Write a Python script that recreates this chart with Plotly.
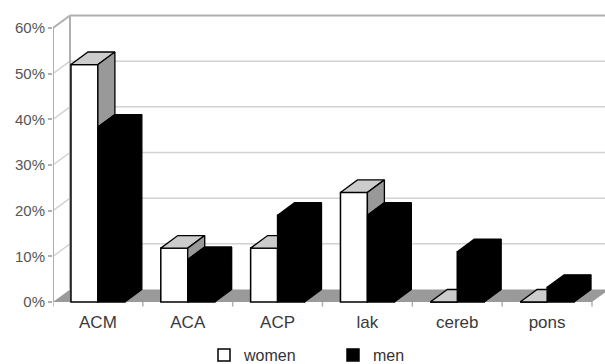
import plotly.graph_objects as go

# ---------------- data ----------------
categories = ["ACM", "ACA", "ACP", "lak", "cereb", "pons"]
women = [52.0, 11.8, 11.8, 24.0, 0.0, 0.0]
men = [38.3, 9.3, 19.0, 19.0, 11.0, 3.2]
y_tick_values = [0, 10, 20, 30, 40, 50, 60]
y_tick_labels = ["0%", "10%", "20%", "30%", "40%", "50%", "60%"]
series_names = ["women", "men"]

# ---------------- pseudo-3D geometry (data units) ----------------
BAR_W = 0.30      # width of each bar's front face (category units)
DX = 0.189        # depth offset along x (category units)
DY = 2.74         # depth offset along y (percentage points)
N = len(categories)
centers = [i + 0.5 for i in range(N)]
Y_MAX = y_tick_values[-1]

FONT = "Liberation Sans, Arial, sans-serif"
GRID = "#d2d2d2"
WALL = "#b0b0b0"
FLOOR = "#9a9a9a"
TOP_W = "#cccccc"
SIDE_W = "#999999"


def poly_join(polys):
    xs, ys = [], []
    for p in polys:
        for (x, y) in p + [p[0]]:
            xs.append(x)
            ys.append(y)
        xs.append(None)
        ys.append(None)
    return xs, ys


women_tops, women_sides, men_tops, men_sides = [], [], [], []
for c, w, m in zip(centers, women, men):
    # women (left bar): top face, clipped where the men bar's front hides it
    A = (c - BAR_W, w)
    B = (c, w)
    C = (c + DX, w + DY)
    D = (c - BAR_W + DX, w + DY)
    if m <= w:
        women_tops.append([A, B, C, D])
    elif m >= w + DY:
        women_tops.append([A, B, (c, w + DY), D])
    else:
        xm = c + (m - w) / DY * DX
        women_tops.append([A, B, (c, m), (xm, m), C, D])
    # women side face: only the part above the men bar
    if w > m:
        women_sides.append([(c, m), (c, w), (c + DX, w + DY), (c + DX, m + DY)])
    # men (right bar)
    men_tops.append([(c, m), (c + BAR_W, m), (c + BAR_W + DX, m + DY), (c + DX, m + DY)])
    men_sides.append([(c + BAR_W, 0), (c + BAR_W, m),
                      (c + BAR_W + DX, m + DY), (c + BAR_W + DX, DY)])

fig = go.Figure()

# front faces as real bars
fig.add_trace(go.Bar(
    x=centers, y=women, width=BAR_W, offset=-BAR_W, name=series_names[0],
    marker=dict(color="white", line=dict(color="black", width=1.5)),
    legend="legend", hoverinfo="skip"))
fig.add_trace(go.Bar(
    x=centers, y=men, width=BAR_W, offset=0, name=series_names[1],
    marker=dict(color="black", line=dict(color="black", width=1.5)),
    legend="legend2", hoverinfo="skip"))

for polys, col in [(women_tops, TOP_W), (women_sides, SIDE_W),
                   (men_tops, "black"), (men_sides, "black")]:
    if not polys:
        continue
    xs, ys = poly_join(polys)
    fig.add_trace(go.Scatter(
        x=xs, y=ys, mode="lines", fill="toself", fillcolor=col,
        line=dict(color="black", width=1.3), showlegend=False,
        hoverinfo="skip"))

# ---------------- walls, floor, gridlines (shapes below traces) ----------------
shapes = []
shapes.append(dict(type="path", layer="below", xref="x", yref="y",
                   path=f"M 0,0 L {N},0 L {N + DX},{DY} L {DX},{DY} Z",
                   fillcolor=FLOOR, line=dict(width=0)))
for v in y_tick_values[1:-1]:
    shapes.append(dict(type="line", layer="below", xref="x", yref="y",
                       x0=DX, x1=N + DX + 1, y0=v + DY, y1=v + DY,
                       line=dict(color=GRID, width=1.5)))
    shapes.append(dict(type="line", layer="below", xref="x", yref="y",
                       x0=0, x1=DX, y0=v, y1=v + DY,
                       line=dict(color=GRID, width=1.5)))
# top edges of the walls
shapes.append(dict(type="line", layer="below", xref="x", yref="y",
                   x0=DX, x1=N + DX + 1, y0=Y_MAX + DY, y1=Y_MAX + DY,
                   line=dict(color=WALL, width=2)))
shapes.append(dict(type="line", layer="below", xref="x", yref="y",
                   x0=0, x1=DX, y0=Y_MAX, y1=Y_MAX + DY,
                   line=dict(color=WALL, width=2)))
# back-left vertical edge and front value axis
shapes.append(dict(type="line", layer="below", xref="x", yref="y",
                   x0=DX, x1=DX, y0=DY, y1=Y_MAX + DY,
                   line=dict(color=WALL, width=2)))
shapes.append(dict(type="line", layer="below", xref="x", yref="y",
                   x0=0, x1=0, y0=0, y1=Y_MAX,
                   line=dict(color=WALL, width=2)))
# category separator ticks on the floor's front edge
for i in range(N + 1):
    shapes.append(dict(type="line", layer="below", xref="x", yref="y",
                       x0=i, x1=i, y0=0, y1=-1.0,
                       line=dict(color=WALL, width=1.5)))

# pixel-calibrated ranges: 0 -> x=53px, 6 -> x=592px ; 0% -> y=302px, 60% -> y=28px
PX_PER_CAT = (592 - 53) / 6
PX_PER_PCT = (302 - 28) / 60
M_L, M_R, M_T, M_B = 53, 0, 8, 54
W, H = 605, 364
PLOT_W = W - M_L - M_R
PLOT_H = H - M_T - M_B
x_max = PLOT_W / PX_PER_CAT
y_min = -((H - M_B) - 302) / PX_PER_PCT
y_max = (302 - M_T) / PX_PER_PCT
LEGEND_Y = -((355 - (H - M_B)) / PLOT_H)

fig.update_layout(
    width=W, height=H,
    margin=dict(l=M_L, r=M_R, t=M_T, b=M_B, autoexpand=False),
    paper_bgcolor="white", plot_bgcolor="white",
    barmode="overlay",
    font=dict(family=FONT, size=16, color="#333333"),
    shapes=shapes,
    xaxis=dict(range=[0, x_max], tickmode="array", tickvals=centers,
               ticktext=categories, ticks="", showgrid=False, zeroline=False,
               showline=False, fixedrange=True, automargin=False,
               tickfont=dict(size=17, color="#3a3a3a")),
    yaxis=dict(range=[y_min, y_max], tickmode="array", tickvals=y_tick_values,
               ticktext=y_tick_labels, ticks="outside", ticklen=4,
               tickwidth=1.5, tickcolor=WALL, showgrid=False, zeroline=False,
               showline=False, fixedrange=True, automargin=False,
               tickfont=dict(size=15, color="#555555")),
    legend=dict(orientation="h", x=(204 - M_L) / PLOT_W, xanchor="left",
                y=LEGEND_Y, yanchor="middle", font=dict(size=16, color="#333333"),
                bgcolor="rgba(0,0,0,0)", itemwidth=30),
    legend2=dict(orientation="h", x=(333 - M_L) / PLOT_W, xanchor="left",
                 y=LEGEND_Y, yanchor="middle", font=dict(size=16, color="#333333"),
                 bgcolor="rgba(0,0,0,0)", itemwidth=30),
)

fig.write_html("out.html", config={"displayModeBar": False},
               post_script="document.body.style.margin='0';document.body.style.overflow='hidden';")
